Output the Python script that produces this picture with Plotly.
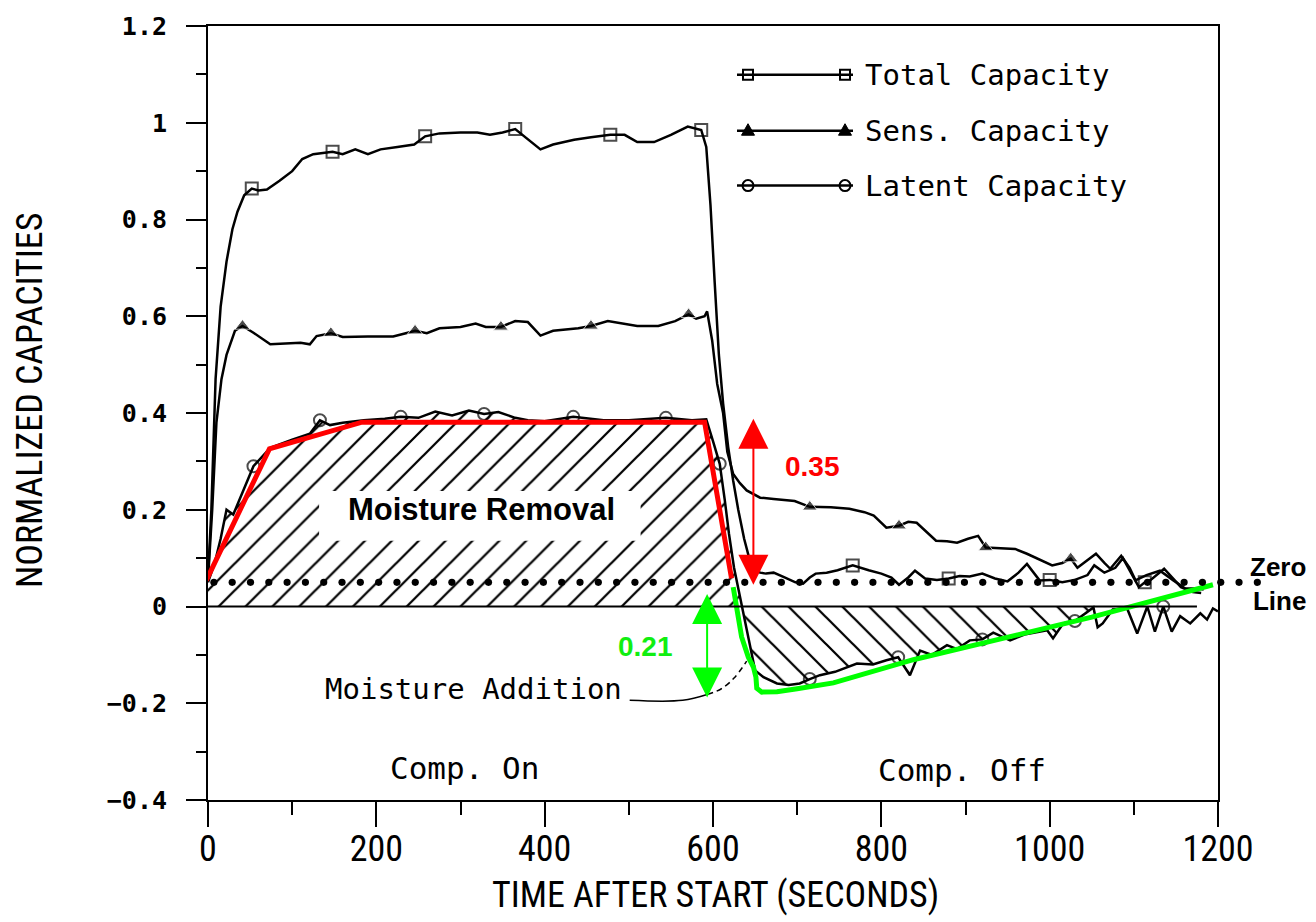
import plotly.graph_objects as go
import numpy as np

# ---------------- data ----------------
TOTAL_T = [0, 4, 9, 15, 22, 29, 35, 43, 52, 60, 70, 85, 100, 112, 125, 148, 160, 175, 190, 205,
           225, 245, 258, 275, 300, 320, 335, 350, 365, 380, 395, 410, 435, 455, 478, 495, 510, 530, 550, 570,
           586, 592, 597, 602, 607, 612, 618, 624, 630, 637, 643, 648, 656, 663, 672, 685, 698, 707, 715, 722,
           735, 748, 766, 785, 800, 812, 821, 832, 840, 852, 866, 880, 893, 905, 920, 935, 950, 963, 973, 988,
           1000, 1015, 1030, 1045, 1053, 1065, 1078, 1087, 1096, 1106, 1113, 1120, 1136, 1146, 1156, 1170, 1180]
TOTAL_V = [0.06, 0.2, 0.47, 0.62, 0.713, 0.78, 0.816, 0.85, 0.864, 0.86, 0.862, 0.88, 0.9, 0.925, 0.935, 0.94, 0.935, 0.945, 0.935, 0.945,
           0.95, 0.955, 0.972, 0.978, 0.98, 0.98, 0.975, 0.98, 0.987, 0.965, 0.945, 0.955, 0.965, 0.97, 0.975, 0.975, 0.96, 0.96, 0.975, 0.992,
           0.985, 0.95, 0.83, 0.67, 0.52, 0.42, 0.33, 0.26, 0.2, 0.14, 0.1, 0.08, 0.07, 0.068, 0.07, 0.06, 0.05, 0.047, 0.06, 0.068,
           0.07, 0.075, 0.085, 0.075, 0.068, 0.06, 0.045, 0.06, 0.074, 0.058, 0.055, 0.058, 0.063, 0.062, 0.068, 0.058, 0.052, 0.07, 0.088, 0.054,
           0.055, 0.05, 0.055, 0.065, 0.085, 0.07, 0.08, 0.1, 0.07, 0.04, 0.05, 0.055, 0.078, 0.06, 0.04, 0.03, 0.028]
TOTAL_MARK_T = [52, 148, 258, 365, 478, 586, 766, 880, 1000, 1113]

SENS_T = [0, 5, 10, 16, 22, 32, 41, 54, 74, 90, 110, 121, 129, 146, 160, 190, 220, 235, 246, 260,
          275, 300, 318, 330, 348, 365, 380, 395, 410, 440, 455, 475, 495, 510, 535, 555, 571, 580, 590, 593,
          599, 605, 612, 617, 624, 632, 640, 648, 656, 672, 685, 697, 715, 740, 762, 780, 791, 806, 821, 832,
          842, 853, 865, 878, 890, 903, 915, 924, 940, 959, 973, 990, 1003, 1015, 1025, 1033, 1045, 1055, 1065, 1072,
          1085, 1095, 1102, 1115, 1131, 1140, 1147, 1161, 1176, 1183]
SENS_V = [0.055, 0.2, 0.38, 0.47, 0.52, 0.57, 0.58, 0.566, 0.542, 0.544, 0.545, 0.542, 0.559, 0.565, 0.557, 0.558, 0.558, 0.565, 0.57, 0.565,
          0.575, 0.578, 0.585, 0.578, 0.578, 0.59, 0.588, 0.56, 0.57, 0.575, 0.58, 0.59, 0.585, 0.58, 0.58, 0.59, 0.604, 0.595, 0.6, 0.61,
          0.55, 0.46, 0.4, 0.32, 0.274, 0.255, 0.24, 0.233, 0.225, 0.222, 0.22, 0.218, 0.206, 0.205, 0.202, 0.195, 0.188, 0.163, 0.167, 0.175,
          0.173, 0.155, 0.136, 0.135, 0.132, 0.14, 0.146, 0.122, 0.12, 0.119, 0.109, 0.095, 0.085, 0.09, 0.099, 0.08, 0.095, 0.109, 0.09, 0.078,
          0.105, 0.08, 0.054, 0.065, 0.074, 0.062, 0.054, 0.037, 0.037, 0.035]
SENS_MARK_T = [41, 146, 246, 348, 455, 571, 715, 821, 924, 1025]

LATENT_T = [0, 8, 15, 22, 30, 42, 54, 74, 100, 121, 133, 145, 160, 185, 210, 229, 250, 270, 290, 310,
            328, 345, 365, 380, 400, 434, 470, 500, 544, 575, 592, 600, 608, 614, 619, 625, 632, 638, 644, 650,
            660, 676, 690, 703, 715, 727, 745, 771, 790, 806, 820, 834, 846, 860, 878, 890, 905, 920, 933, 953,
            970, 997, 1004, 1016, 1030, 1052, 1057, 1063, 1075, 1092, 1104, 1116, 1125, 1135, 1145, 1155, 1167, 1179, 1187, 1194,
            1200]
LATENT_V = [0.05, 0.09, 0.14, 0.2, 0.19, 0.239, 0.29, 0.328, 0.345, 0.357, 0.385, 0.375, 0.38, 0.385, 0.388, 0.392, 0.39, 0.403, 0.395, 0.405,
            0.398, 0.402, 0.39, 0.385, 0.383, 0.392, 0.385, 0.385, 0.39, 0.385, 0.387, 0.342, 0.295, 0.22, 0.15, 0.08, 0.02, -0.03, -0.084, -0.132,
            -0.146, -0.159, -0.162, -0.159, -0.15, -0.142, -0.135, -0.118, -0.12, -0.111, -0.105, -0.142, -0.091, -0.1, -0.08, -0.088, -0.07, -0.068, -0.054, -0.07,
            -0.058, -0.049, -0.066, -0.035, -0.03, -0.002, -0.043, -0.035, -0.006, -0.004, -0.056, 0.0, -0.052, 0.0, -0.052, -0.02, -0.035, -0.014, -0.027, -0.004,
            -0.01]
LATENT_MARK_T = [54, 133, 229, 328, 434, 544, 608, 715, 820, 920, 1030, 1135]

# hand-drawn annotation overlays
RED_T = [-2, 73, 183, 590, 622]
RED_V = [0.054, 0.326, 0.381, 0.381, 0.058]
GREEN_T = [624, 628, 634, 642, 648, 651, 652, 658, 676, 700, 743, 838, 941, 1050, 1194]
GREEN_V = [0.04, -0.008, -0.063, -0.105, -0.125, -0.146, -0.169, -0.177, -0.176, -0.17, -0.158, -0.11, -0.068, -0.022, 0.045]
LEADER_T = [501, 564, 593, 610, 625, 640]
LEADER_V = [-0.194, -0.194, -0.182, -0.17, -0.148, -0.113]
ZERO_LINE_LEVEL = 0.05
ZERO_DOT_START, ZERO_DOT_END, ZERO_DOT_STEP = 7, 1250, 21.75
REMOVAL_END_T = 635
ADDITION_RANGE_T = (636, 1052)

X_RANGE = [0, 1200]
Y_RANGE = [-0.4, 1.2]
X_TICKS = [0, 200, 400, 600, 800, 1000, 1200]
X_MINOR = [100, 300, 500, 700, 900, 1100]
Y_TICKS = [-0.4, -0.2, 0, 0.2, 0.4, 0.6, 0.8, 1, 1.2]
Y_TICK_TEXT = ["\u22120.4", "\u22120.2", "0", "0.2", "0.4", "0.6", "0.8", "1", "1.2"]
Y_MINOR = [-0.3, -0.1, 0.1, 0.3, 0.5, 0.7, 0.9, 1.1]

assert len(TOTAL_T) == len(TOTAL_V)
assert len(SENS_T) == len(SENS_V)
assert len(LATENT_T) == len(LATENT_V)

MONO = "DejaVu Sans Mono"
NARROW = "Liberation Sans Narrow, Roboto Condensed, DejaVu Sans Condensed, Liberation Sans, sans-serif"
BOLD = "Liberation Sans, Arial, sans-serif"
LW = 2.5


def to_px(t):
    return (t - X_RANGE[0]) / (X_RANGE[1] - X_RANGE[0])


def to_py(v):
    return (v - Y_RANGE[0]) / (Y_RANGE[1] - Y_RANGE[0])


fig = go.Figure()

# hatched areas
lt = np.array(LATENT_T)
lv = np.array(LATENT_V)
m1 = lt <= REMOVAL_END_T
fig.add_trace(go.Scatter(x=lt[m1], y=lv[m1], mode="none", fill="tozeroy",
                         fillcolor="white",
                         fillpattern=dict(shape="/", fgcolor="black", bgcolor="white", size=19,
                                          solidity=0.12, fgopacity=1),
                         showlegend=False, hoverinfo="skip"))
m2 = (lt >= ADDITION_RANGE_T[0]) & (lt <= ADDITION_RANGE_T[1])
fig.add_trace(go.Scatter(x=lt[m2], y=lv[m2], mode="none", fill="tozeroy",
                         fillcolor="white",
                         fillpattern=dict(shape="\\", fgcolor="black", bgcolor="white", size=19,
                                          solidity=0.12, fgopacity=1),
                         showlegend=False, hoverinfo="skip"))


def msizes(ts, marks, s):
    return [s if t in marks else 0 for t in ts]


fig.add_trace(go.Scatter(x=TOTAL_T, y=TOTAL_V, mode="lines+markers", name="Total Capacity",
                         line=dict(color="black", width=LW),
                         marker=dict(symbol="square-open", size=msizes(TOTAL_T, TOTAL_MARK_T, 12),
                                     color="black", line=dict(width=2, color="black")),
                         showlegend=False))
fig.add_trace(go.Scatter(x=SENS_T, y=SENS_V, mode="lines+markers", name="Sens. Capacity",
                         line=dict(color="black", width=LW),
                         marker=dict(symbol="triangle-up", size=msizes(SENS_T, SENS_MARK_T, 13),
                                     color="black"),
                         showlegend=False))
fig.add_trace(go.Scatter(x=LATENT_T, y=LATENT_V, mode="lines+markers", name="Latent Capacity",
                         line=dict(color="black", width=LW),
                         marker=dict(symbol="circle-open", size=msizes(LATENT_T, LATENT_MARK_T, 12),
                                     color="black", line=dict(width=2, color="black")),
                         showlegend=False))

# red and green sketches
fig.add_trace(go.Scatter(x=RED_T, y=RED_V, mode="lines", line=dict(color="#ff0000", width=5),
                         cliponaxis=False, showlegend=False))
fig.add_trace(go.Scatter(x=GREEN_T, y=GREEN_V, mode="lines", line=dict(color="#00ff00", width=5),
                         showlegend=False))

# leader for "Moisture Addition"
fig.add_trace(go.Scatter(x=LEADER_T[:3], y=LEADER_V[:3], mode="lines", line=dict(color="black", width=1.5),
                         line_shape="spline", showlegend=False))
fig.add_trace(go.Scatter(x=LEADER_T[2:], y=LEADER_V[2:], mode="lines",
                         line=dict(color="black", width=1.5, dash="6px,4px"),
                         line_shape="spline", showlegend=False))

# dotted "zero line" (drawn as paper-referenced circles so it can run past the frame)
for t in np.arange(ZERO_DOT_START, ZERO_DOT_END, ZERO_DOT_STEP):
    fig.add_shape(type="circle", xref="paper", yref="paper", xsizemode="pixel", ysizemode="pixel",
                  xanchor=to_px(t), yanchor=to_py(ZERO_LINE_LEVEL), x0=-3.6, x1=3.6, y0=-3.6, y1=3.6,
                  fillcolor="black", line=dict(width=0), layer="above")

# legend (drawn by hand to mimic the original)
LEG_Y_PX = [73, 129, 184]          # rows, in page pixels from top
LEG_LINE_PX = (737, 853)
LEG_MARK_PX = (748, 845)
LEG_TEXT_PX = 863
PLOT_L, PLOT_R, PLOT_T, PLOT_B = 208, 1218, 24, 800
LEG_NAMES = ["Total Capacity", "Sens. Capacity", "Latent Capacity"]


def pxx(px):
    return (px - PLOT_L) / (PLOT_R - PLOT_L)


def pxy(py):
    return (PLOT_B - py) / (PLOT_B - PLOT_T)


for i, (row, name) in enumerate(zip(LEG_Y_PX, LEG_NAMES)):
    yy = pxy(row)
    fig.add_shape(type="line", xref="paper", yref="paper", x0=pxx(LEG_LINE_PX[0]), x1=pxx(LEG_LINE_PX[1]),
                  y0=yy, y1=yy, line=dict(color="black", width=LW))
    for mx in LEG_MARK_PX:
        xx = pxx(mx)
        if i == 0:
            fig.add_shape(type="rect", xref="paper", yref="paper", xsizemode="pixel", ysizemode="pixel",
                          xanchor=xx, yanchor=yy, x0=-5, x1=5, y0=-5, y1=5,
                          fillcolor="rgba(0,0,0,0)", line=dict(color="black", width=2))
        elif i == 1:
            fig.add_shape(type="path", xref="paper", yref="paper", xsizemode="pixel", ysizemode="pixel",
                          xanchor=xx, yanchor=yy, path="M -6.5 -4.5 L 6.5 -4.5 L 0 7 Z",
                          fillcolor="black", line=dict(color="black", width=1))
        else:
            fig.add_shape(type="circle", xref="paper", yref="paper", xsizemode="pixel", ysizemode="pixel",
                          xanchor=xx, yanchor=yy, x0=-5.5, x1=5.5, y0=-5.5, y1=5.5,
                          fillcolor="rgba(0,0,0,0)", line=dict(color="black", width=2))
    fig.add_annotation(x=pxx(LEG_TEXT_PX), y=yy, xref="paper", yref="paper", text=name, showarrow=False,
                       xanchor="left", yanchor="middle", font=dict(family=MONO, size=29, color="black"))

# baseline at 0 and white box behind label
fig.add_shape(type="line", x0=0, x1=1175, y0=0, y1=0, xref="x", yref="y",
              line=dict(color="black", width=2), layer="above")
fig.add_shape(type="rect", x0=132, x1=514, y0=0.136, y1=0.239, xref="x", yref="y",
              fillcolor="white", line=dict(width=0), layer="above")

# texts
fig.add_annotation(x=325, y=0.2, text="Moisture Removal", showarrow=False,
                   font=dict(family=BOLD, size=31, color="black", weight="bold"))
fig.add_annotation(x=316, y=-0.171, text="Moisture Addition", showarrow=False,
                   font=dict(family=MONO, size=29, color="black"))
fig.add_annotation(x=305, y=-0.334, text="Comp. On", showarrow=False,
                   font=dict(family=MONO, size=31, color="black"))
fig.add_annotation(x=896, y=-0.338, text="Comp. Off", showarrow=False,
                   font=dict(family=MONO, size=31, color="black"))
fig.add_annotation(x=718, y=0.289, text="0.35", showarrow=False,
                   font=dict(family=BOLD, size=28, color="#ff0000", weight="bold"))
fig.add_annotation(x=520, y=-0.082, text="0.21", showarrow=False,
                   font=dict(family=BOLD, size=28, color="#11ee11", weight="bold"))
fig.add_annotation(x=pxx(1278), y=0.047, xref="paper", yref="y", text="Zero<br>Line", showarrow=False,
                   xanchor="center", yanchor="middle",
                   align="right", font=dict(family=BOLD, size=26, color="black", weight="bold"))

# arrows
fig.add_annotation(x=648, y=0.388, ax=648, ay=0.042, xref="x", yref="y", axref="x", ayref="y",
                   text="", showarrow=True, arrowhead=2, arrowsize=3, arrowwidth=2, arrowcolor="#ff0000",
                   arrowside="end+start", startarrowhead=2, startarrowsize=3)
fig.add_annotation(x=593, y=-0.188, ax=593, ay=0.029, xref="x", yref="y", axref="x", ayref="y",
                   text="", showarrow=True, arrowhead=2, arrowsize=3, arrowwidth=2, arrowcolor="#00ff00",
                   arrowside="end+start", startarrowhead=2, startarrowsize=3)

# axis titles
fig.add_annotation(x=pxx(30), y=pxy(400), xref="paper", yref="paper", text="NORMALIZED CAPACITIES",
                   xanchor="center", yanchor="middle",
                   textangle=-90, showarrow=False, font=dict(family=NARROW, size=36, color="black"))
fig.add_annotation(x=pxx(715), y=pxy(895), xref="paper", yref="paper", text="TIME AFTER START (SECONDS)",
                   xanchor="center", yanchor="middle",
                   showarrow=False, font=dict(family=NARROW, size=36, color="black"))

fig.update_layout(
    width=1316, height=922,
    margin=dict(l=PLOT_L, r=1316 - PLOT_R, t=PLOT_T, b=922 - PLOT_B),
    paper_bgcolor="white", plot_bgcolor="white",
    showlegend=False,
    xaxis=dict(range=X_RANGE, tickmode="array", tickvals=X_TICKS, ticktext=[str(v) for v in X_TICKS],
               ticks="outside", ticklen=25, tickwidth=2, tickcolor="black",
               minor=dict(tickmode="array", tickvals=X_MINOR, ticks="outside", ticklen=13, tickwidth=2, tickcolor="black"),
               showline=True, linecolor="black", linewidth=2, mirror=True,
               showgrid=False, zeroline=False,
               tickfont=dict(family=NARROW, size=36, color="black"), ticklabelstandoff=-9),
    yaxis=dict(range=Y_RANGE, tickmode="array", tickvals=Y_TICKS, ticktext=Y_TICK_TEXT,
               ticks="outside", ticklen=20, tickwidth=2, tickcolor="black",
               minor=dict(tickmode="array", tickvals=Y_MINOR, ticks="outside", ticklen=10, tickwidth=2, tickcolor="black"),
               showline=True, linecolor="black", linewidth=2, mirror=True,
               showgrid=False, zeroline=False,
               tickfont=dict(family=MONO, size=25, color="black", weight="bold"), ticklabelstandoff=14),
)

fig.write_html("out.html")
